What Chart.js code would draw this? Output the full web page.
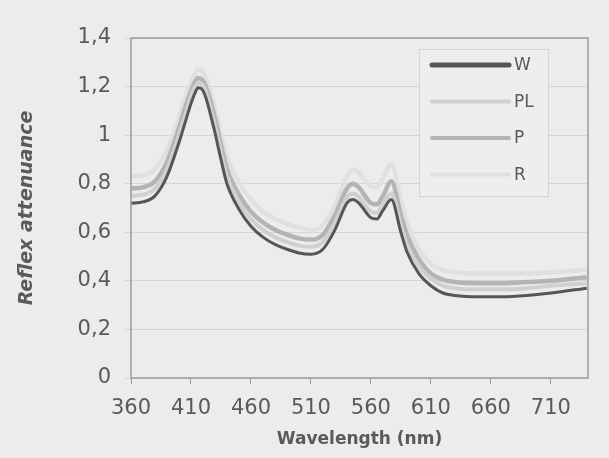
<!DOCTYPE html>
<html>
<head>
<meta charset="utf-8">
<script src="https://cdn.jsdelivr.net/npm/chart.js@4"></script>
<style>
  html, body { margin: 0; padding: 0; background: #ececec; }
  #wrap { width: 609px; height: 458px; }
</style>
</head>
<body>
<div id="wrap"><canvas id="c" width="609" height="458"></canvas></div>
<script>
// wavelength (nm)
var wavelengths = [360,370,380,390,400,405,410,413,416,419,422,426,430,435,440,450,460,470,480,490,500,510,520,530,540,545,550,560,565,570,577,585,590,600,610,620,630,650,670,690,710,740];
var seriesW  = [.72,.725,.75,.83,.97,1.05,1.13,1.17,1.195,1.19,1.16,1.09,1.01,.90,.80,.695,.625,.58,.55,.53,.515,.51,.53,.61,.72,.735,.72,.66,.655,.69,.735,.60,.52,.43,.38,.35,.34,.335,.335,.34,.35,.37];
var seriesPL = [.75,.755,.78,.86,1.0,1.08,1.16,1.195,1.215,1.21,1.185,1.12,1.04,.93,.83,.725,.655,.61,.58,.56,.545,.54,.56,.64,.745,.76,.745,.685,.68,.715,.76,.63,.55,.46,.41,.38,.37,.365,.365,.37,.38,.39];
var seriesP  = [.78,.785,.81,.89,1.03,1.11,1.18,1.215,1.235,1.23,1.205,1.145,1.07,.96,.86,.755,.685,.64,.61,.59,.575,.57,.59,.67,.78,.80,.785,.72,.715,.75,.81,.67,.59,.49,.43,.405,.395,.39,.39,.395,.40,.415];
var seriesR  = [.83,.835,.86,.94,1.07,1.15,1.22,1.25,1.27,1.265,1.24,1.185,1.11,1.0,.91,.805,.735,.685,.655,.635,.62,.61,.63,.71,.83,.86,.845,.79,.785,.82,.88,.73,.64,.53,.47,.445,.435,.43,.43,.43,.435,.445];
var seriesNames = ['W','PL','P','R'];
var xTicks = [360,410,460,510,560,610,660,710];

function pts(arr){
  return arr.map(function(v,i){ return {x: wavelengths[i], y: v}; });
}

var txt = '#5a5a5a';
var font = 'DejaVu Sans, sans-serif';

var boxPlugin = {
  id: 'box',
  afterDraw: function(chart){
    var ctx = chart.ctx, a = chart.chartArea;
    ctx.save();
    ctx.strokeStyle = '#9a9a9a';
    ctx.lineWidth = 1.5;
    ctx.strokeRect(a.left, a.top, a.right - a.left, a.bottom - a.top);
    // legend box
    ctx.fillStyle = '#eeeeee';
    ctx.fillRect(419, 49, 129, 147);
    ctx.strokeStyle = '#d4d4d4';
    ctx.lineWidth = 1;
    ctx.strokeRect(419.5, 49.5, 129, 147);
    chart.data.datasets.forEach(function(ds, i){
      var y = 65 + i * 36.5;
      ctx.strokeStyle = ds.borderColor;
      ctx.lineWidth = i === 0 ? 5 : 4;
      ctx.lineCap = 'round';
      ctx.beginPath();
      ctx.moveTo(432, y);
      ctx.lineTo(509, y);
      ctx.stroke();
      ctx.fillStyle = txt;
      ctx.font = '17px ' + font;
      ctx.textBaseline = 'middle';
      ctx.fillText(ds.label, 514, y + 1);
    });
    ctx.restore();
  }
};

new Chart(document.getElementById('c'), {
  type: 'line',
  data: {
    datasets: [
      {label: seriesNames[0], data: pts(seriesW),  borderColor: '#565656', borderWidth: 3},
      {label: seriesNames[1], data: pts(seriesPL), borderColor: '#d0d0d0', borderWidth: 4},
      {label: seriesNames[2], data: pts(seriesP),  borderColor: '#b4b4b4', borderWidth: 4.5},
      {label: seriesNames[3], data: pts(seriesR),  borderColor: '#e0e0e0', borderWidth: 4.5}
    ]
  },
  options: {
    responsive: false,
    animation: false,
    layout: {padding: {left: 0, top: 38, right: 21, bottom: 0}},
    elements: {point: {radius: 0}, line: {cubicInterpolationMode: 'monotone'}},
    plugins: {legend: {display: false}, tooltip: {enabled: false}},
    scales: {
      x: {
        type: 'linear', min: 360, max: 741,
        afterBuildTicks: function(s){ s.ticks = xTicks.map(function(v){ return {value: v}; }); },
        afterFit: function(s){ s.height = 80; },
        grid: {drawOnChartArea: false, tickLength: 6, color: '#9a9a9a'},
        border: {display: false},
        ticks: {color: txt, font: {family: font, size: 21}, padding: 12, maxRotation: 0, autoSkip: false},
        title: {display: true, text: 'Wavelength (nm)', color: txt,
                font: {family: font, size: 17, weight: 'bold'}, padding: {top: 0, bottom: 8}}
      },
      y: {
        min: 0, max: 1.4,
        afterFit: function(s){ s.width = 131; },
        grid: {color: '#d6d6d6', tickLength: 6, lineWidth: 1},
        border: {display: false},
        ticks: {stepSize: 0.2, color: txt, font: {family: font, size: 21}, padding: 14,
                callback: function(v){ return (Math.round(v * 10) / 10).toString().replace('.', ','); }},
        title: {display: true, text: 'Reflex attenuance', color: txt,
                font: {family: font, size: 19, weight: 'bold', style: 'italic'}, padding: {top: 16}}
      }
    }
  },
  plugins: [boxPlugin]
});
</script>
</body>
</html>
